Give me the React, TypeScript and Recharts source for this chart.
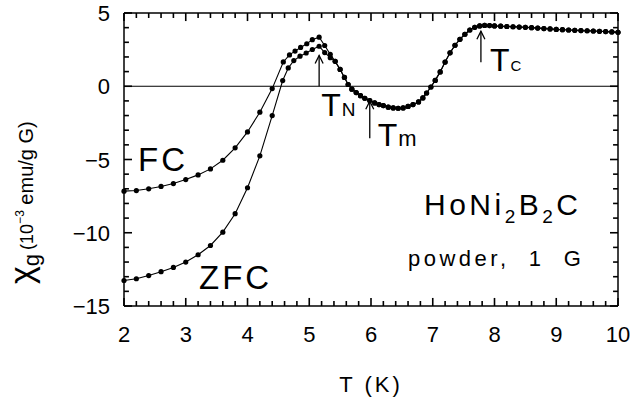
import React from 'react';
import { ComposedChart, Line, XAxis, YAxis, ReferenceLine } from 'recharts';

// field-cooled branch below the merge point
const fcLowT = [2.0, 2.2, 2.4, 2.6, 2.8, 3.0, 3.2, 3.4, 3.6, 3.8, 4.0, 4.2, 4.4, 4.58, 4.68, 4.77, 4.86, 4.96, 5.05, 5.16, 5.25, 5.34];
const fcLowChi = [-7.16, -7.12, -7.0, -6.84, -6.64, -6.37, -6.05, -5.64, -5.05, -4.2, -3.12, -1.77, -0.16, 1.66, 2.14, 2.4, 2.65, 2.9, 3.18, 3.35, 2.78, 2.18];

// zero-field-cooled branch below the merge point
const zfcLowT = [2.0, 2.2, 2.4, 2.6, 2.8, 3.0, 3.2, 3.4, 3.6, 3.8, 4.0, 4.2, 4.4, 4.57, 4.66, 4.75, 4.85, 4.95, 5.05, 5.16, 5.25, 5.34];
const zfcLowChi = [-13.26, -13.14, -12.92, -12.66, -12.37, -12.0, -11.5, -10.87, -9.96, -8.7, -6.93, -4.75, -2.0, 0.39, 1.25, 1.75, 2.05, 2.27, 2.51, 2.73, 2.3, 1.95];

// both curves coincide above ~5.4 K
const sharedT = [5.42, 5.5, 5.57, 5.63, 5.69, 5.76, 5.83, 5.9, 5.98, 6.06, 6.13, 6.2, 6.28, 6.36, 6.44, 6.52, 6.6, 6.68, 6.77, 6.84, 6.9, 6.97, 7.04, 7.12, 7.2, 7.28, 7.36, 7.44, 7.52, 7.6, 7.68, 7.76, 7.84, 7.92, 8.0, 8.1, 8.2, 8.3, 8.4, 8.5, 8.6, 8.7, 8.8, 8.9, 9.0, 9.1, 9.2, 9.3, 9.4, 9.5, 9.6, 9.7, 9.8, 9.9, 10.0];
const sharedChi = [1.7, 1.15, 0.6, 0.12, -0.2, -0.43, -0.64, -0.82, -0.98, -1.14, -1.25, -1.32, -1.43, -1.48, -1.5, -1.48, -1.38, -1.25, -1.07, -0.8, -0.46, -0.05, 0.4, 0.98, 1.65, 2.28, 2.8, 3.2, 3.55, 3.84, 4.02, 4.12, 4.15, 4.14, 4.12, 4.1, 4.08, 4.06, 4.04, 4.02, 4.0, 3.97, 3.94, 3.91, 3.88, 3.86, 3.84, 3.82, 3.8, 3.79, 3.77, 3.75, 3.73, 3.71, 3.68];

const xMajor = [2, 3, 4, 5, 6, 7, 8, 9, 10];
const yMajor = [-15, -10, -5, 0, 5];

// transition markers: T position, arrow from/to in chi units
const markers = [
  { sub: 'N', T: 5.16, from: 0, to: 2.1, dx: 2, dy: 30, subSize: 19 },
  { sub: 'm', T: 5.98, from: -3.55, to: -1.02, dx: 8, dy: 8, subSize: 22 },
  { sub: 'C', T: 7.78, from: 1.64, to: 3.75, dx: 9, dy: 9, subSize: 15 },
];

const FONT = '"Liberation Sans", Arial, Helvetica, sans-serif';
const X_DOM = [2, 10];
const Y_DOM = [-15, 5];

const toRows = (ts: number[], vs: number[]) => ts.map((T, i) => ({ T, chi: vs[i] }));
const fcData = toRows([...fcLowT, ...sharedT], [...fcLowChi, ...sharedChi]);
const zfcData = toRows([...zfcLowT, ...sharedT], [...zfcLowChi, ...sharedChi]);

const xTicks: number[] = [];
for (let k = 0; k <= 40; k++) xTicks.push(Math.round((2 + k * 0.2) * 10) / 10);
const yTicks: number[] = [];
for (let v = -15; v <= 5; v++) yTicks.push(v);

const isX = (v: number) => xMajor.includes(v);
const isY = (v: number) => yMajor.includes(v);
const fmt = (v: number) => (v < 0 ? '\u2212' + Math.abs(v) : String(v));

// inward tick marks as short segments (lengths in axis units: ~8px major, ~5px minor)
type Seg = { key: string; seg: { x: number; y: number }[] };
const tickSegs: Seg[] = [];
xTicks.forEach((t) => {
  const len = isX(t) ? 0.55 : 0.34;
  tickSegs.push({ key: 'b' + t, seg: [{ x: t, y: Y_DOM[0] }, { x: t, y: Y_DOM[0] + len }] });
  tickSegs.push({ key: 't' + t, seg: [{ x: t, y: Y_DOM[1] }, { x: t, y: Y_DOM[1] - len }] });
});
yTicks.forEach((v) => {
  const len = isY(v) ? 0.13 : 0.08;
  tickSegs.push({ key: 'l' + v, seg: [{ x: X_DOM[0], y: v }, { x: X_DOM[0] + len, y: v }] });
  tickSegs.push({ key: 'r' + v, seg: [{ x: X_DOM[1], y: v }, { x: X_DOM[1] - len, y: v }] });
});

const BottomLabel = (p: any) => {
  const v = p.payload.value;
  if (!isX(v)) return <g />;
  return (
    <text x={p.x} y={p.y + 36} textAnchor="middle" fontSize={22} fontFamily={FONT} fill="#000">
      {v}
    </text>
  );
};

const LeftLabel = (p: any) => {
  const v = p.payload.value;
  if (!isY(v)) return <g />;
  return (
    <text x={p.x - 14} y={p.y + 8} textAnchor="end" fontSize={22} fontFamily={FONT} fill="#000">
      {fmt(v)}
    </text>
  );
};

const arrowShape = (m: (typeof markers)[number]) => (p: any) => {
  const { x1, y1, x2, y2 } = p;
  return (
    <g>
      <line x1={x1} y1={y1} x2={x2} y2={y2} stroke="#000" strokeWidth={1.3} />
      <polyline points={`${x2 - 4},${y2 + 8} ${x2},${y2} ${x2 + 4},${y2 + 8}`} fill="none" stroke="#000" strokeWidth={1.3} />
      <text x={x1 + m.dx} y={y1 + m.dy} fontSize={32} fontFamily={FONT} fill="#000">
        T<tspan fontSize={m.subSize} dx={1}>{m.sub}</tspan>
      </text>
    </g>
  );
};

const frame = { stroke: '#000', strokeWidth: 1.5 };

export default function App() {
  return (
    <div style={{ position: 'absolute', left: 0, top: 0, background: '#fff' }}>
      <ComposedChart width={632} height={400} margin={{ top: 12, right: 13, bottom: 64, left: 64 }}>
        <XAxis
          xAxisId="b"
          dataKey="T"
          type="number"
          domain={X_DOM}
          ticks={xTicks}
          interval={0}
          height={30}
          tickSize={0}
          tickMargin={0}
          tickLine={false}
          axisLine={frame}
          tick={BottomLabel}
        />
        <XAxis xAxisId="t" orientation="top" dataKey="T" type="number" domain={X_DOM} height={1} tick={false} tickLine={false} axisLine={frame} />
        <YAxis
          yAxisId="l"
          type="number"
          domain={Y_DOM}
          ticks={yTicks}
          interval={0}
          width={60}
          tickSize={0}
          tickMargin={0}
          tickLine={false}
          axisLine={frame}
          tick={LeftLabel}
        />
        <YAxis yAxisId="r" orientation="right" type="number" domain={Y_DOM} width={1} tick={false} tickLine={false} axisLine={frame} />
        <Line xAxisId="t" yAxisId="r" data={fcData} dataKey="chi" stroke="none" dot={false} activeDot={false} isAnimationActive={false} />
        {tickSegs.map((s) => (
          <ReferenceLine key={s.key} xAxisId="b" yAxisId="l" segment={s.seg} ifOverflow="visible" stroke="#000" strokeWidth={1.6} />
        ))}
        <ReferenceLine xAxisId="b" yAxisId="l" y={0} stroke="#000" strokeWidth={1} />
        {markers.map((m) => (
          <ReferenceLine
            key={m.sub}
            xAxisId="b"
            yAxisId="l"
            segment={[{ x: m.T, y: m.from }, { x: m.T, y: m.to }]}
            shape={arrowShape(m)}
          />
        ))}
        <Line
          xAxisId="b"
          yAxisId="l"
          data={fcData}
          dataKey="chi"
          type="linear"
          stroke="#000"
          strokeWidth={1.1}
          dot={{ r: 2.6, fill: '#000', stroke: 'none' }}
          isAnimationActive={false}
        />
        <Line
          xAxisId="b"
          yAxisId="l"
          data={zfcData}
          dataKey="chi"
          type="linear"
          stroke="#000"
          strokeWidth={1.1}
          dot={{ r: 2.6, fill: '#000', stroke: 'none' }}
          isAnimationActive={false}
        />
        <g fontFamily={FONT} fill="#000">
          <text x={138} y={171} fontSize={33} letterSpacing={3}>FC</text>
          <text x={199} y={289} fontSize={33} letterSpacing={3}>ZFC</text>
          <text x={424} y={215} fontSize={30} letterSpacing={3.5}>
            HoNi<tspan fontSize={19} dy={8}>2</tspan>
            <tspan dy={-8}>B</tspan>
            <tspan fontSize={19} dy={8}>2</tspan>
            <tspan dy={-8}>C</tspan>
          </text>
          <text x={408} y={266} fontSize={22} letterSpacing={3.5}>{'powder,\u00A0 1\u00A0 G'}</text>
          <text x={371} y={392} fontSize={22} letterSpacing={3} textAnchor="middle">T (K)</text>
          <text transform="translate(33,284) rotate(-90)" fontSize={20}>
            <tspan fontSize={34}>χ</tspan>
            <tspan fontSize={22} dy={6}>g</tspan>
            <tspan fontSize={18} dy={-6} dx={4}>(10</tspan>
            <tspan fontSize={12} dy={-9}>−3</tspan>
            <tspan fontSize={20} dy={9}> emu/g G)</tspan>
          </text>
        </g>
      </ComposedChart>
    </div>
  );
}
